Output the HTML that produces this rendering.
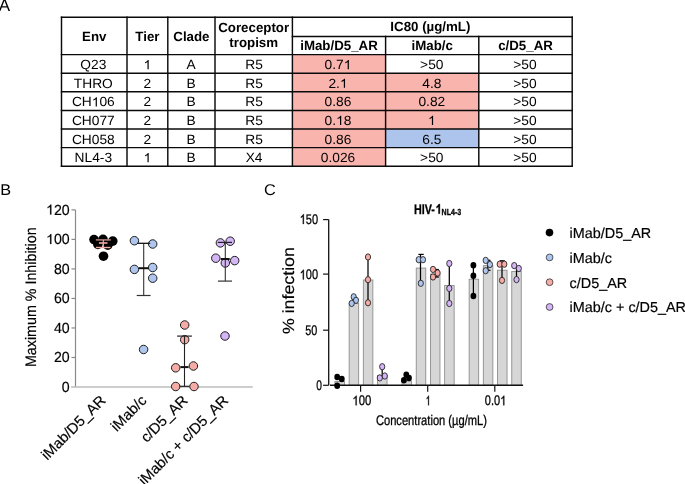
<!DOCTYPE html>
<html><head><meta charset="utf-8"><style>
html,body{margin:0;padding:0;background:#fff;overflow:hidden;}
svg{display:block;will-change:transform;}
text{font-family:"Liberation Sans", sans-serif;fill:#000;text-rendering:geometricPrecision;}
</style></head><body>
<svg width="685" height="484" viewBox="0 0 685 484">
<rect x="292.4" y="54.6" width="93.20000000000005" height="18.6" fill="#f9b4ae"/>
<rect x="292.4" y="73.2" width="93.20000000000005" height="18.60000000000001" fill="#f9b4ae"/>
<rect x="292.4" y="91.80000000000001" width="93.20000000000005" height="18.599999999999994" fill="#f9b4ae"/>
<rect x="292.4" y="110.4" width="93.20000000000005" height="18.599999999999994" fill="#f9b4ae"/>
<rect x="292.4" y="129.0" width="93.20000000000005" height="18.599999999999994" fill="#f9b4ae"/>
<rect x="292.4" y="147.6" width="93.20000000000005" height="18.600000000000023" fill="#f9b4ae"/>
<rect x="385.6" y="73.2" width="93.19999999999999" height="18.60000000000001" fill="#f9b4ae"/>
<rect x="385.6" y="91.80000000000001" width="93.19999999999999" height="18.599999999999994" fill="#f9b4ae"/>
<rect x="385.6" y="110.4" width="93.19999999999999" height="18.599999999999994" fill="#f9b4ae"/>
<rect x="385.6" y="129.0" width="93.19999999999999" height="18.599999999999994" fill="#adc4ec"/>
<line x1="61.5" y1="17.2" x2="572.2" y2="17.2" stroke="#0a0a0a" stroke-width="1.45" stroke-linecap="square"/>
<line x1="292.4" y1="36.4" x2="572.2" y2="36.4" stroke="#0a0a0a" stroke-width="1.45" stroke-linecap="square"/>
<line x1="61.5" y1="54.6" x2="572.2" y2="54.6" stroke="#0a0a0a" stroke-width="1.45" stroke-linecap="square"/>
<line x1="61.5" y1="73.2" x2="572.2" y2="73.2" stroke="#0a0a0a" stroke-width="1.45" stroke-linecap="square"/>
<line x1="61.5" y1="91.80000000000001" x2="572.2" y2="91.80000000000001" stroke="#0a0a0a" stroke-width="1.45" stroke-linecap="square"/>
<line x1="61.5" y1="110.4" x2="572.2" y2="110.4" stroke="#0a0a0a" stroke-width="1.45" stroke-linecap="square"/>
<line x1="61.5" y1="129.0" x2="572.2" y2="129.0" stroke="#0a0a0a" stroke-width="1.45" stroke-linecap="square"/>
<line x1="61.5" y1="147.6" x2="572.2" y2="147.6" stroke="#0a0a0a" stroke-width="1.45" stroke-linecap="square"/>
<line x1="61.5" y1="166.20000000000002" x2="572.2" y2="166.20000000000002" stroke="#0a0a0a" stroke-width="1.45" stroke-linecap="square"/>
<line x1="61.5" y1="17.2" x2="61.5" y2="166.20000000000002" stroke="#0a0a0a" stroke-width="1.45" stroke-linecap="square"/>
<line x1="127.0" y1="17.2" x2="127.0" y2="166.20000000000002" stroke="#0a0a0a" stroke-width="1.45" stroke-linecap="square"/>
<line x1="167.8" y1="17.2" x2="167.8" y2="166.20000000000002" stroke="#0a0a0a" stroke-width="1.45" stroke-linecap="square"/>
<line x1="215.0" y1="17.2" x2="215.0" y2="166.20000000000002" stroke="#0a0a0a" stroke-width="1.45" stroke-linecap="square"/>
<line x1="292.4" y1="17.2" x2="292.4" y2="166.20000000000002" stroke="#0a0a0a" stroke-width="1.45" stroke-linecap="square"/>
<line x1="385.6" y1="36.4" x2="385.6" y2="166.20000000000002" stroke="#0a0a0a" stroke-width="1.45" stroke-linecap="square"/>
<line x1="478.8" y1="36.4" x2="478.8" y2="166.20000000000002" stroke="#0a0a0a" stroke-width="1.45" stroke-linecap="square"/>
<line x1="572.2" y1="17.2" x2="572.2" y2="166.20000000000002" stroke="#0a0a0a" stroke-width="1.45" stroke-linecap="square"/>
<text x="94.25" y="40.7" font-size="13.3" font-weight="bold" text-anchor="middle" >Env</text>
<text x="147.4" y="40.7" font-size="13.3" font-weight="bold" text-anchor="middle" >Tier</text>
<text x="191.4" y="40.7" font-size="13.3" font-weight="bold" text-anchor="middle" >Clade</text>
<text x="253.7" y="31.6" font-size="13.3" font-weight="bold" text-anchor="middle" >Coreceptor</text>
<text x="253.7" y="47.2" font-size="13.3" font-weight="bold" text-anchor="middle" >tropism</text>
<text x="430.4" y="31.3" font-size="13.3" font-weight="bold" text-anchor="middle" >IC80 (µg/mL)</text>
<text x="339.0" y="50.1" font-size="13.3" font-weight="bold" text-anchor="middle" >iMab/D5_AR</text>
<text x="432.20000000000005" y="50.1" font-size="13.3" font-weight="bold" text-anchor="middle" >iMab/c</text>
<text x="525.5" y="50.1" font-size="13.3" font-weight="bold" text-anchor="middle" >c/D5_AR</text>
<text transform="translate(93.30,69.20) scale(1.035,1)" font-size="13.3" font-weight="normal" text-anchor="middle" >Q23</text>
<path transform="translate(143.57,69.20) scale(0.00672,-0.00624)" d="M763 0L583 0L583 1147C540 1106 483 1064 413 1023C344 982 281 951 225 930L225 1104C326 1151 414 1209 489 1276C564 1343 617 1409 648 1466L763 1466Z" fill="#000"/>
<text transform="translate(191.20,69.20) scale(1.035,1)" font-size="13.3" font-weight="normal" text-anchor="middle" >A</text>
<text transform="translate(254.10,69.20) scale(1.035,1)" font-size="13.3" font-weight="normal" text-anchor="middle" >R5</text>
<text transform="translate(324.60,69.20) scale(1.03500,1)" font-size="13.3" font-weight="normal" text-anchor="start" >0.7</text>
<path transform="translate(343.74,69.20) scale(0.00672,-0.00624)" d="M763 0L583 0L583 1147C540 1106 483 1064 413 1023C344 982 281 951 225 930L225 1104C326 1151 414 1209 489 1276C564 1343 617 1409 648 1466L763 1466Z" fill="#000"/>
<text transform="translate(431.80,69.20) scale(1.035,1)" font-size="13.3" font-weight="normal" text-anchor="middle" >&gt;50</text>
<text transform="translate(525.00,69.20) scale(1.035,1)" font-size="13.3" font-weight="normal" text-anchor="middle" >&gt;50</text>
<text transform="translate(93.30,87.80) scale(1.035,1)" font-size="13.3" font-weight="normal" text-anchor="middle" >THRO</text>
<text transform="translate(147.40,87.80) scale(1.035,1)" font-size="13.3" font-weight="normal" text-anchor="middle" >2</text>
<text transform="translate(191.20,87.80) scale(1.035,1)" font-size="13.3" font-weight="normal" text-anchor="middle" >B</text>
<text transform="translate(254.10,87.80) scale(1.035,1)" font-size="13.3" font-weight="normal" text-anchor="middle" >R5</text>
<text transform="translate(328.43,87.80) scale(1.03500,1)" font-size="13.3" font-weight="normal" text-anchor="start" >2.</text>
<path transform="translate(339.91,87.80) scale(0.00672,-0.00624)" d="M763 0L583 0L583 1147C540 1106 483 1064 413 1023C344 982 281 951 225 930L225 1104C326 1151 414 1209 489 1276C564 1343 617 1409 648 1466L763 1466Z" fill="#000"/>
<text transform="translate(431.80,87.80) scale(1.035,1)" font-size="13.3" font-weight="normal" text-anchor="middle" >4.8</text>
<text transform="translate(525.00,87.80) scale(1.035,1)" font-size="13.3" font-weight="normal" text-anchor="middle" >&gt;50</text>
<text transform="translate(71.88,106.40) scale(1.03500,1)" font-size="13.3" font-weight="normal" text-anchor="start" >CH</text>
<path transform="translate(91.76,106.40) scale(0.00672,-0.00624)" d="M763 0L583 0L583 1147C540 1106 483 1064 413 1023C344 982 281 951 225 930L225 1104C326 1151 414 1209 489 1276C564 1343 617 1409 648 1466L763 1466Z" fill="#000"/>
<text transform="translate(99.41,106.40) scale(1.03500,1)" font-size="13.3" font-weight="normal" text-anchor="start" >06</text>
<text transform="translate(147.40,106.40) scale(1.035,1)" font-size="13.3" font-weight="normal" text-anchor="middle" >2</text>
<text transform="translate(191.20,106.40) scale(1.035,1)" font-size="13.3" font-weight="normal" text-anchor="middle" >B</text>
<text transform="translate(254.10,106.40) scale(1.035,1)" font-size="13.3" font-weight="normal" text-anchor="middle" >R5</text>
<text transform="translate(338.00,106.40) scale(1.035,1)" font-size="13.3" font-weight="normal" text-anchor="middle" >0.86</text>
<text transform="translate(431.80,106.40) scale(1.035,1)" font-size="13.3" font-weight="normal" text-anchor="middle" >0.82</text>
<text transform="translate(525.00,106.40) scale(1.035,1)" font-size="13.3" font-weight="normal" text-anchor="middle" >&gt;50</text>
<text transform="translate(93.30,125.00) scale(1.035,1)" font-size="13.3" font-weight="normal" text-anchor="middle" >CH077</text>
<text transform="translate(147.40,125.00) scale(1.035,1)" font-size="13.3" font-weight="normal" text-anchor="middle" >2</text>
<text transform="translate(191.20,125.00) scale(1.035,1)" font-size="13.3" font-weight="normal" text-anchor="middle" >B</text>
<text transform="translate(254.10,125.00) scale(1.035,1)" font-size="13.3" font-weight="normal" text-anchor="middle" >R5</text>
<text transform="translate(324.60,125.00) scale(1.03500,1)" font-size="13.3" font-weight="normal" text-anchor="start" >0.</text>
<path transform="translate(336.08,125.00) scale(0.00672,-0.00624)" d="M763 0L583 0L583 1147C540 1106 483 1064 413 1023C344 982 281 951 225 930L225 1104C326 1151 414 1209 489 1276C564 1343 617 1409 648 1466L763 1466Z" fill="#000"/>
<text transform="translate(343.74,125.00) scale(1.03500,1)" font-size="13.3" font-weight="normal" text-anchor="start" >8</text>
<path transform="translate(427.97,125.00) scale(0.00672,-0.00624)" d="M763 0L583 0L583 1147C540 1106 483 1064 413 1023C344 982 281 951 225 930L225 1104C326 1151 414 1209 489 1276C564 1343 617 1409 648 1466L763 1466Z" fill="#000"/>
<text transform="translate(525.00,125.00) scale(1.035,1)" font-size="13.3" font-weight="normal" text-anchor="middle" >&gt;50</text>
<text transform="translate(93.30,143.60) scale(1.035,1)" font-size="13.3" font-weight="normal" text-anchor="middle" >CH058</text>
<text transform="translate(147.40,143.60) scale(1.035,1)" font-size="13.3" font-weight="normal" text-anchor="middle" >2</text>
<text transform="translate(191.20,143.60) scale(1.035,1)" font-size="13.3" font-weight="normal" text-anchor="middle" >B</text>
<text transform="translate(254.10,143.60) scale(1.035,1)" font-size="13.3" font-weight="normal" text-anchor="middle" >R5</text>
<text transform="translate(338.00,143.60) scale(1.035,1)" font-size="13.3" font-weight="normal" text-anchor="middle" >0.86</text>
<text transform="translate(431.80,143.60) scale(1.035,1)" font-size="13.3" font-weight="normal" text-anchor="middle" >6.5</text>
<text transform="translate(525.00,143.60) scale(1.035,1)" font-size="13.3" font-weight="normal" text-anchor="middle" >&gt;50</text>
<text transform="translate(93.30,162.20) scale(1.035,1)" font-size="13.3" font-weight="normal" text-anchor="middle" >NL4-3</text>
<path transform="translate(143.57,162.20) scale(0.00672,-0.00624)" d="M763 0L583 0L583 1147C540 1106 483 1064 413 1023C344 982 281 951 225 930L225 1104C326 1151 414 1209 489 1276C564 1343 617 1409 648 1466L763 1466Z" fill="#000"/>
<text transform="translate(191.20,162.20) scale(1.035,1)" font-size="13.3" font-weight="normal" text-anchor="middle" >B</text>
<text transform="translate(254.10,162.20) scale(1.035,1)" font-size="13.3" font-weight="normal" text-anchor="middle" >X4</text>
<text transform="translate(338.00,162.20) scale(1.035,1)" font-size="13.3" font-weight="normal" text-anchor="middle" >0.026</text>
<text transform="translate(431.80,162.20) scale(1.035,1)" font-size="13.3" font-weight="normal" text-anchor="middle" >&gt;50</text>
<text transform="translate(525.00,162.20) scale(1.035,1)" font-size="13.3" font-weight="normal" text-anchor="middle" >&gt;50</text>
<text x="-1.3" y="11.1" font-size="17" font-weight="normal" text-anchor="start" >A</text>
<text transform="translate(0.30,194.60) scale(1.05,1)" font-size="15.5" font-weight="normal" text-anchor="start" >B</text>
<text transform="translate(264.00,194.70) scale(1.05,1)" font-size="15.5" font-weight="normal" text-anchor="start" >C</text>
<line x1="75.5" y1="209.904" x2="75.5" y2="387" stroke="#8a8a8a" stroke-width="1.2"/>
<line x1="71.1" y1="387" x2="252.7" y2="387" stroke="#bdbdbd" stroke-width="1.6"/>
<text transform="translate(69.70,391.70) scale(0.97,1)" font-size="14.6" font-weight="normal" text-anchor="end" stroke="#000" stroke-width="0.18">0</text>
<line x1="71.5" y1="357.48" x2="75.5" y2="357.48" stroke="#8a8a8a" stroke-width="1.2"/>
<text transform="translate(69.70,362.18) scale(0.97,1)" font-size="14.6" font-weight="normal" text-anchor="end" stroke="#000" stroke-width="0.18">20</text>
<line x1="71.5" y1="327.97" x2="75.5" y2="327.97" stroke="#8a8a8a" stroke-width="1.2"/>
<text transform="translate(69.70,332.67) scale(0.97,1)" font-size="14.6" font-weight="normal" text-anchor="end" stroke="#000" stroke-width="0.18">40</text>
<line x1="71.5" y1="298.45" x2="75.5" y2="298.45" stroke="#8a8a8a" stroke-width="1.2"/>
<text transform="translate(69.70,303.15) scale(0.97,1)" font-size="14.6" font-weight="normal" text-anchor="end" stroke="#000" stroke-width="0.18">60</text>
<line x1="71.5" y1="268.94" x2="75.5" y2="268.94" stroke="#8a8a8a" stroke-width="1.2"/>
<text transform="translate(69.70,273.64) scale(0.97,1)" font-size="14.6" font-weight="normal" text-anchor="end" stroke="#000" stroke-width="0.18">80</text>
<line x1="71.5" y1="239.42" x2="75.5" y2="239.42" stroke="#8a8a8a" stroke-width="1.2"/>
<path transform="translate(46.07,244.12) scale(0.00692,-0.00685)" d="M763 0L583 0L583 1147C540 1106 483 1064 413 1023C344 982 281 951 225 930L225 1104C326 1151 414 1209 489 1276C564 1343 617 1409 648 1466L763 1466Z" fill="#000" stroke="#000" stroke-width="0.18" vector-effect="non-scaling-stroke"/>
<text transform="translate(53.95,244.12) scale(0.97000,1)" font-size="14.6" font-weight="normal" text-anchor="start" stroke="#000" stroke-width="0.18">00</text>
<line x1="71.5" y1="209.90" x2="75.5" y2="209.90" stroke="#8a8a8a" stroke-width="1.2"/>
<path transform="translate(46.07,214.60) scale(0.00692,-0.00685)" d="M763 0L583 0L583 1147C540 1106 483 1064 413 1023C344 982 281 951 225 930L225 1104C326 1151 414 1209 489 1276C564 1343 617 1409 648 1466L763 1466Z" fill="#000" stroke="#000" stroke-width="0.18" vector-effect="non-scaling-stroke"/>
<text transform="translate(53.95,214.60) scale(0.97000,1)" font-size="14.6" font-weight="normal" text-anchor="start" stroke="#000" stroke-width="0.18">20</text>
<text transform="translate(35.9,297.2) rotate(-90) scale(0.94,1)" font-size="15.2" text-anchor="middle" stroke="#000" stroke-width="0.18">Maximum % Inhibition</text>
<circle cx="94" cy="239.6" r="4.8" fill="#000"/>
<circle cx="103" cy="239.3" r="4.8" fill="#000"/>
<circle cx="112.8" cy="241.1" r="4.8" fill="#000"/>
<circle cx="97.9" cy="244.4" r="4.8" fill="#000"/>
<circle cx="107.8" cy="245.2" r="4.8" fill="#000"/>
<circle cx="103.5" cy="256.2" r="4.8" fill="#000"/>
<line x1="95.9" y1="239.9" x2="110.8" y2="239.9" stroke="#c48e8a" stroke-width="1.4"/>
<line x1="98.9" y1="243" x2="107.5" y2="243" stroke="#f2aaa4" stroke-width="1.6"/>
<line x1="95.9" y1="247.5" x2="110.5" y2="247.5" stroke="#f2aaa4" stroke-width="1.4"/>
<line x1="103.3" y1="239.9" x2="103.3" y2="247.5" stroke="#f2aaa4" stroke-width="1.2"/>
<circle cx="134.4" cy="240.7" r="4.25" fill="#aec6ee" stroke="#1c1c1c" stroke-width="1.0"/>
<circle cx="152.7" cy="244" r="4.25" fill="#aec6ee" stroke="#1c1c1c" stroke-width="1.0"/>
<circle cx="134.4" cy="269.4" r="4.25" fill="#aec6ee" stroke="#1c1c1c" stroke-width="1.0"/>
<circle cx="152.7" cy="267.5" r="4.25" fill="#aec6ee" stroke="#1c1c1c" stroke-width="1.0"/>
<circle cx="152.7" cy="278.2" r="4.25" fill="#aec6ee" stroke="#1c1c1c" stroke-width="1.0"/>
<circle cx="143.6" cy="349.5" r="4.25" fill="#aec6ee" stroke="#1c1c1c" stroke-width="1.0"/>
<line x1="143.7" y1="243.3" x2="143.7" y2="295.5" stroke="#333" stroke-width="1.1"/>
<line x1="137.4" y1="243.3" x2="150.2" y2="243.3" stroke="#111" stroke-width="1.3"/>
<line x1="138.8" y1="268.2" x2="148.8" y2="268.2" stroke="#111" stroke-width="2.0"/>
<line x1="136.7" y1="295.5" x2="150.6" y2="295.5" stroke="#333" stroke-width="1.2"/>
<circle cx="184.7" cy="325" r="4.25" fill="#f6aca6" stroke="#1c1c1c" stroke-width="1.0"/>
<circle cx="184.7" cy="339.7" r="4.25" fill="#f6aca6" stroke="#1c1c1c" stroke-width="1.0"/>
<circle cx="175.7" cy="367.8" r="4.25" fill="#f6aca6" stroke="#1c1c1c" stroke-width="1.0"/>
<circle cx="193.4" cy="366" r="4.25" fill="#f6aca6" stroke="#1c1c1c" stroke-width="1.0"/>
<circle cx="175.7" cy="386.5" r="4.25" fill="#f6aca6" stroke="#1c1c1c" stroke-width="1.0"/>
<circle cx="194" cy="386.5" r="4.25" fill="#f6aca6" stroke="#1c1c1c" stroke-width="1.0"/>
<line x1="184.5" y1="336.1" x2="184.5" y2="386.3" stroke="#222" stroke-width="1.1"/>
<line x1="177.1" y1="336.1" x2="191.9" y2="336.1" stroke="#222" stroke-width="1.2"/>
<line x1="180.4" y1="367.1" x2="188.6" y2="367.1" stroke="#111" stroke-width="2.0"/>
<line x1="179.5" y1="386.3" x2="189.5" y2="386.3" stroke="#222" stroke-width="1.2"/>
<circle cx="220.4" cy="242.9" r="4.25" fill="#d4b5f5" stroke="#1c1c1c" stroke-width="1.0"/>
<circle cx="230.2" cy="241.2" r="4.25" fill="#d4b5f5" stroke="#1c1c1c" stroke-width="1.0"/>
<circle cx="215.8" cy="258.2" r="4.25" fill="#d4b5f5" stroke="#1c1c1c" stroke-width="1.0"/>
<circle cx="225.3" cy="263" r="4.25" fill="#d4b5f5" stroke="#1c1c1c" stroke-width="1.0"/>
<circle cx="234.7" cy="260.6" r="4.25" fill="#d4b5f5" stroke="#1c1c1c" stroke-width="1.0"/>
<circle cx="225" cy="336" r="4.25" fill="#d4b5f5" stroke="#1c1c1c" stroke-width="1.0"/>
<line x1="225.3" y1="242.4" x2="225.3" y2="281.1" stroke="#333" stroke-width="1.1"/>
<line x1="217.8" y1="242.4" x2="232" y2="242.4" stroke="#222" stroke-width="1.2"/>
<line x1="220.8" y1="259" x2="229.7" y2="259" stroke="#111" stroke-width="2.0"/>
<line x1="218" y1="281.1" x2="232" y2="281.1" stroke="#333" stroke-width="1.2"/>
<text transform="translate(106.5,401.4) rotate(-45)" font-size="14.8" text-anchor="end" stroke="#000" stroke-width="0.18">iMab/D5_AR</text>
<text transform="translate(147.5,401.4) rotate(-45)" font-size="14.8" text-anchor="end" stroke="#000" stroke-width="0.18">iMab/c</text>
<text transform="translate(188.5,401.4) rotate(-45)" font-size="14.8" text-anchor="end" stroke="#000" stroke-width="0.18">c/D5_AR</text>
<text transform="translate(229,401.4) rotate(-45)" font-size="14.8" text-anchor="end" stroke="#000" stroke-width="0.18">iMab/c + c/D5_AR</text>
<rect x="334.95" y="381.5" width="9.5" height="3.80" fill="#d6d6d6" stroke="#8e8e8e" stroke-width="0.9"/>
<rect x="349.15" y="303.3" width="9.5" height="82.00" fill="#d6d6d6" stroke="#8e8e8e" stroke-width="0.9"/>
<rect x="363.35" y="280.0" width="9.5" height="105.30" fill="#d6d6d6" stroke="#8e8e8e" stroke-width="0.9"/>
<rect x="377.55" y="375.5" width="9.5" height="9.80" fill="#d6d6d6" stroke="#8e8e8e" stroke-width="0.9"/>
<rect x="402.05" y="381.0" width="9.5" height="4.30" fill="#d6d6d6" stroke="#8e8e8e" stroke-width="0.9"/>
<rect x="416.25" y="268.1" width="9.5" height="117.20" fill="#d6d6d6" stroke="#8e8e8e" stroke-width="0.9"/>
<rect x="430.45" y="274.0" width="9.5" height="111.30" fill="#d6d6d6" stroke="#8e8e8e" stroke-width="0.9"/>
<rect x="444.65" y="285.5" width="9.5" height="99.80" fill="#d6d6d6" stroke="#8e8e8e" stroke-width="0.9"/>
<rect x="469.15" y="279.2" width="9.5" height="106.10" fill="#d6d6d6" stroke="#8e8e8e" stroke-width="0.9"/>
<rect x="483.35" y="265.6" width="9.5" height="119.70" fill="#d6d6d6" stroke="#8e8e8e" stroke-width="0.9"/>
<rect x="497.55" y="270.2" width="9.5" height="115.10" fill="#d6d6d6" stroke="#8e8e8e" stroke-width="0.9"/>
<rect x="511.75" y="271.4" width="9.5" height="113.90" fill="#d6d6d6" stroke="#8e8e8e" stroke-width="0.9"/>
<line x1="328.7" y1="219.6" x2="328.7" y2="385.3" stroke="#111" stroke-width="1.3"/>
<line x1="330" y1="385.3" x2="523.1" y2="385.3" stroke="#111" stroke-width="1.4"/>
<line x1="323.1" y1="385.3" x2="328.7" y2="385.3" stroke="#111" stroke-width="1.2"/>
<line x1="323.1" y1="330.2" x2="328.7" y2="330.2" stroke="#111" stroke-width="1.2"/>
<line x1="323.1" y1="274.1" x2="328.7" y2="274.1" stroke="#111" stroke-width="1.2"/>
<line x1="323.1" y1="219.6" x2="328.7" y2="219.6" stroke="#111" stroke-width="1.2"/>
<path transform="translate(299.70,224.00) scale(0.00538,-0.00657)" d="M763 0L583 0L583 1147C540 1106 483 1064 413 1023C344 982 281 951 225 930L225 1104C326 1151 414 1209 489 1276C564 1343 617 1409 648 1466L763 1466Z" fill="#000" stroke="#000" stroke-width="0.3" vector-effect="non-scaling-stroke"/>
<text transform="translate(305.83,224.00) scale(0.78773,1)" font-size="14" font-weight="normal" text-anchor="start" stroke="#000" stroke-width="0.3">50</text>
<path transform="translate(299.70,279.40) scale(0.00538,-0.00657)" d="M763 0L583 0L583 1147C540 1106 483 1064 413 1023C344 982 281 951 225 930L225 1104C326 1151 414 1209 489 1276C564 1343 617 1409 648 1466L763 1466Z" fill="#000" stroke="#000" stroke-width="0.3" vector-effect="non-scaling-stroke"/>
<text transform="translate(305.83,279.40) scale(0.78773,1)" font-size="14" font-weight="normal" text-anchor="start" stroke="#000" stroke-width="0.3">00</text>
<text x="305.2" y="334.9" font-size="14" font-weight="normal" textLength="12.10" lengthAdjust="spacingAndGlyphs" stroke="#000" stroke-width="0.3">50</text>
<text x="316.2" y="390.2" font-size="14" font-weight="normal" textLength="5.70" lengthAdjust="spacingAndGlyphs" stroke="#000" stroke-width="0.3">0</text>
<line x1="360.6" y1="385.3" x2="360.6" y2="391.7" stroke="#111" stroke-width="1.2"/>
<line x1="427.70000000000005" y1="385.3" x2="427.70000000000005" y2="391.7" stroke="#111" stroke-width="1.2"/>
<line x1="494.8" y1="385.3" x2="494.8" y2="391.7" stroke="#111" stroke-width="1.2"/>
<path transform="translate(352.40,405.30) scale(0.00553,-0.00657)" d="M763 0L583 0L583 1147C540 1106 483 1064 413 1023C344 982 281 951 225 930L225 1104C326 1151 414 1209 489 1276C564 1343 617 1409 648 1466L763 1466Z" fill="#000" stroke="#000" stroke-width="0.3" vector-effect="non-scaling-stroke"/>
<text transform="translate(358.70,405.30) scale(0.80913,1)" font-size="14" font-weight="normal" text-anchor="start" stroke="#000" stroke-width="0.3">00</text>
<path transform="translate(425.80,405.30) scale(0.00404,-0.00657)" d="M763 0L583 0L583 1147C540 1106 483 1064 413 1023C344 982 281 951 225 930L225 1104C326 1151 414 1209 489 1276C564 1343 617 1409 648 1466L763 1466Z" fill="#000" stroke="#000" stroke-width="0.3" vector-effect="non-scaling-stroke"/>
<text transform="translate(484.80,405.30) scale(0.78905,1)" font-size="14" font-weight="normal" text-anchor="start" stroke="#000" stroke-width="0.3">0.0</text>
<path transform="translate(500.16,405.30) scale(0.00539,-0.00657)" d="M763 0L583 0L583 1147C540 1106 483 1064 413 1023C344 982 281 951 225 930L225 1104C326 1151 414 1209 489 1276C564 1343 617 1409 648 1466L763 1466Z" fill="#000" stroke="#000" stroke-width="0.3" vector-effect="non-scaling-stroke"/>
<text x="375.9" y="425.1" font-size="14" font-weight="normal" textLength="111.10" lengthAdjust="spacingAndGlyphs" stroke="#000" stroke-width="0.3">Concentration (µg/mL)</text>
<text transform="translate(413.90,213.70) scale(0.76845,1)" font-size="14" font-weight="bold" text-anchor="start" stroke="#000" stroke-width="0.3">HIV-</text>
<path transform="translate(435.42,213.70) scale(0.00525,-0.00657)" d="M856 0L575 0L575 1059C472 963 351 892 211 846L211 1101C285 1125 364 1170 450 1237C536 1304 595 1382 627 1471L856 1471Z" fill="#000" stroke="#000" stroke-width="0.3" vector-effect="non-scaling-stroke"/>
<text x="441.6" y="214.9" font-size="8.9" font-weight="bold" textLength="19.60" lengthAdjust="spacingAndGlyphs" stroke="#000" stroke-width="0.3">NL4-3</text>
<text transform="translate(293.6,290.6) scale(0.91,1) rotate(-90)" font-size="17.8" text-anchor="middle" stroke="#000" stroke-width="0.2">% infection</text>
<line x1="368" y1="257" x2="368" y2="302.8" stroke="#000" stroke-width="1.25"/>
<line x1="382.2" y1="366.7" x2="382.2" y2="376" stroke="#000" stroke-width="1.25"/>
<line x1="420.5" y1="254.4" x2="420.5" y2="283.3" stroke="#000" stroke-width="1.25"/>
<line x1="449.3" y1="263.5" x2="449.3" y2="303.5" stroke="#000" stroke-width="1.25"/>
<line x1="473.4" y1="264.5" x2="473.4" y2="296" stroke="#000" stroke-width="1.25"/>
<line x1="487.8" y1="260.4" x2="487.8" y2="270.7" stroke="#000" stroke-width="1.25"/>
<line x1="502" y1="260.8" x2="502" y2="280.4" stroke="#000" stroke-width="1.25"/>
<line x1="516.5" y1="265.6" x2="516.5" y2="279.6" stroke="#000" stroke-width="1.25"/>
<line x1="418.4" y1="254.4" x2="423.7" y2="254.4" stroke="#000" stroke-width="1.2"/>
<line x1="499.7" y1="260.8" x2="504.8" y2="260.8" stroke="#000" stroke-width="1.2"/>
<line x1="485.5" y1="260.3" x2="490.5" y2="260.3" stroke="#000" stroke-width="1.2"/>
<line x1="485.5" y1="270.3" x2="490.5" y2="270.3" stroke="#000" stroke-width="1.2"/>
<line x1="435.5" y1="269.5" x2="438.8" y2="269.5" stroke="#000" stroke-width="1.3"/>
<line x1="435.5" y1="277.0" x2="438.8" y2="277.0" stroke="#000" stroke-width="1.3"/>
<line x1="437.1" y1="269.5" x2="437.1" y2="277.0" stroke="#000" stroke-width="1.2"/>
<ellipse cx="337.2" cy="377.1" rx="2.9" ry="3.25" fill="#000"/>
<ellipse cx="341.8" cy="379.1" rx="2.9" ry="3.25" fill="#000"/>
<ellipse cx="337.2" cy="385.8" rx="2.9" ry="3.25" fill="#000"/>
<ellipse cx="353.7" cy="296.8" rx="2.6" ry="3.15" fill="#aec6ee" stroke="#1c1c1c" stroke-width="0.85"/>
<ellipse cx="356.0" cy="300.3" rx="2.6" ry="3.15" fill="#aec6ee" stroke="#1c1c1c" stroke-width="0.85"/>
<ellipse cx="351.7" cy="303.4" rx="2.6" ry="3.15" fill="#aec6ee" stroke="#1c1c1c" stroke-width="0.85"/>
<ellipse cx="368" cy="257" rx="2.6" ry="3.15" fill="#f6aca6" stroke="#1c1c1c" stroke-width="0.85"/>
<ellipse cx="368" cy="279.7" rx="2.6" ry="3.15" fill="#f6aca6" stroke="#1c1c1c" stroke-width="0.85"/>
<ellipse cx="368" cy="302.8" rx="2.6" ry="3.15" fill="#f6aca6" stroke="#1c1c1c" stroke-width="0.85"/>
<ellipse cx="382.2" cy="366.7" rx="2.6" ry="3.15" fill="#d4b5f5" stroke="#1c1c1c" stroke-width="0.85"/>
<ellipse cx="379.8" cy="377.9" rx="2.6" ry="3.15" fill="#d4b5f5" stroke="#1c1c1c" stroke-width="0.85"/>
<ellipse cx="384.8" cy="376" rx="2.6" ry="3.15" fill="#d4b5f5" stroke="#1c1c1c" stroke-width="0.85"/>
<ellipse cx="406.3" cy="374.8" rx="2.9" ry="3.25" fill="#000"/>
<ellipse cx="409.0" cy="378.0" rx="2.9" ry="3.25" fill="#000"/>
<ellipse cx="403.9" cy="380.2" rx="2.9" ry="3.25" fill="#000"/>
<ellipse cx="418.7" cy="259.7" rx="2.6" ry="3.15" fill="#aec6ee" stroke="#1c1c1c" stroke-width="0.85"/>
<ellipse cx="423" cy="259.7" rx="2.6" ry="3.15" fill="#aec6ee" stroke="#1c1c1c" stroke-width="0.85"/>
<ellipse cx="420.8" cy="283.3" rx="2.6" ry="3.15" fill="#aec6ee" stroke="#1c1c1c" stroke-width="0.85"/>
<ellipse cx="433.0" cy="269.4" rx="2.6" ry="3.15" fill="#f6aca6" stroke="#1c1c1c" stroke-width="0.85"/>
<ellipse cx="437.6" cy="273.0" rx="2.6" ry="3.15" fill="#f6aca6" stroke="#1c1c1c" stroke-width="0.85"/>
<ellipse cx="433.0" cy="277.0" rx="2.6" ry="3.15" fill="#f6aca6" stroke="#1c1c1c" stroke-width="0.85"/>
<ellipse cx="449.3" cy="263.5" rx="2.6" ry="3.15" fill="#d4b5f5" stroke="#1c1c1c" stroke-width="0.85"/>
<ellipse cx="449.3" cy="288.4" rx="2.6" ry="3.15" fill="#d4b5f5" stroke="#1c1c1c" stroke-width="0.85"/>
<ellipse cx="449.3" cy="303.5" rx="2.6" ry="3.15" fill="#d4b5f5" stroke="#1c1c1c" stroke-width="0.85"/>
<ellipse cx="473.4" cy="265.2" rx="2.9" ry="3.25" fill="#000"/>
<ellipse cx="473.4" cy="275.7" rx="2.9" ry="3.25" fill="#000"/>
<ellipse cx="473.4" cy="296" rx="2.9" ry="3.25" fill="#000"/>
<ellipse cx="485.7" cy="260.4" rx="2.6" ry="3.15" fill="#aec6ee" stroke="#1c1c1c" stroke-width="0.85"/>
<ellipse cx="489.9" cy="264.5" rx="2.6" ry="3.15" fill="#aec6ee" stroke="#1c1c1c" stroke-width="0.85"/>
<ellipse cx="485.7" cy="270.7" rx="2.6" ry="3.15" fill="#aec6ee" stroke="#1c1c1c" stroke-width="0.85"/>
<ellipse cx="499.7" cy="264.2" rx="2.6" ry="3.15" fill="#f6aca6" stroke="#1c1c1c" stroke-width="0.85"/>
<ellipse cx="504.3" cy="264.2" rx="2.6" ry="3.15" fill="#f6aca6" stroke="#1c1c1c" stroke-width="0.85"/>
<ellipse cx="502" cy="280.4" rx="2.6" ry="3.15" fill="#f6aca6" stroke="#1c1c1c" stroke-width="0.85"/>
<ellipse cx="514.2" cy="265.6" rx="2.6" ry="3.15" fill="#d4b5f5" stroke="#1c1c1c" stroke-width="0.85"/>
<ellipse cx="518.8" cy="268.5" rx="2.6" ry="3.15" fill="#d4b5f5" stroke="#1c1c1c" stroke-width="0.85"/>
<ellipse cx="516.5" cy="279.6" rx="2.6" ry="3.15" fill="#d4b5f5" stroke="#1c1c1c" stroke-width="0.85"/>
<circle cx="549.5" cy="232.6" r="3.8" fill="#000"/>
<text x="569.6" y="237.9" font-size="14.4" font-weight="normal" text-anchor="start" stroke="#000" stroke-width="0.18">iMab/D5_AR</text>
<circle cx="549.6" cy="257.4" r="3.4" fill="#aec6ee" stroke="#1c1c1c" stroke-width="0.7"/>
<text x="569.6" y="262.7" font-size="14.4" font-weight="normal" text-anchor="start" stroke="#000" stroke-width="0.18">iMab/c</text>
<circle cx="549.6" cy="282.2" r="3.4" fill="#f6aca6" stroke="#1c1c1c" stroke-width="0.7"/>
<text x="569.6" y="287.5" font-size="14.4" font-weight="normal" text-anchor="start" stroke="#000" stroke-width="0.18">c/D5_AR</text>
<circle cx="549.6" cy="307.0" r="3.4" fill="#d4b5f5" stroke="#1c1c1c" stroke-width="0.7"/>
<text x="569.6" y="312.3" font-size="14.4" font-weight="normal" text-anchor="start" stroke="#000" stroke-width="0.18">iMab/c + c/D5_AR</text>
</svg>
</body></html>
